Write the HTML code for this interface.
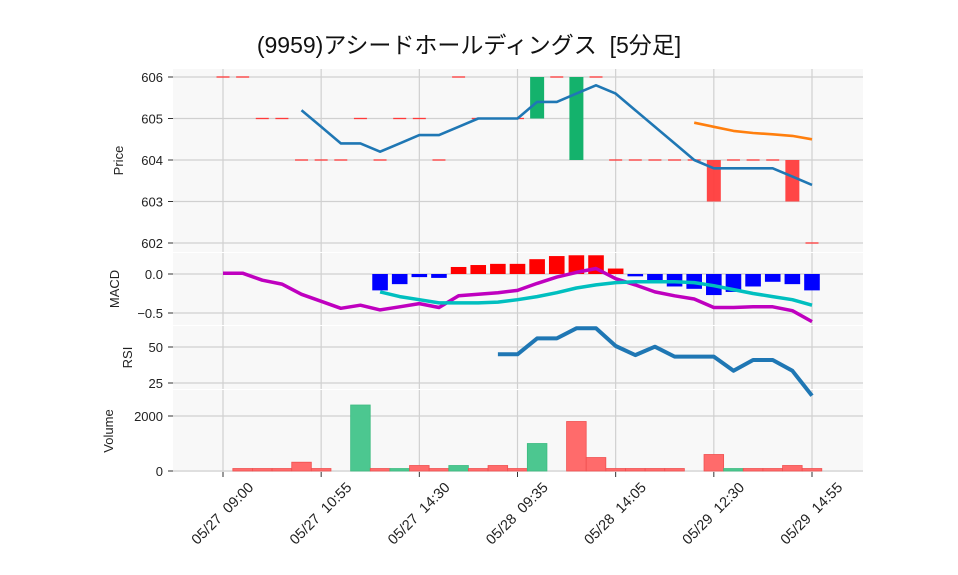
<!DOCTYPE html>
<html><head><meta charset="utf-8"><style>
body{margin:0;background:#fff;}
svg{display:block;font-family:"Liberation Sans","DejaVu Sans",sans-serif;}
text{white-space:pre;}
</style></head><body>
<svg id="c" width="958" height="575" xmlns="http://www.w3.org/2000/svg">
<text x="469" y="53" text-anchor="middle" font-size="23" fill="#111" font-family="'Liberation Sans','Noto Sans CJK JP',sans-serif" style="white-space:pre">(9959)アシードホールディングス  [5分足]</text>
</svg>
<script>
const opens  =[606,606,605,605,604,604,604,605,604,605,605,604,606,605,605,605,605,606,604,606,604,604,604,604,604,604,604,604,604,604,602];
const closes =[606,606,605,605,604,604,604,605,604,605,605,604,606,605,605,605,606,606,606,606,604,604,604,604,604,603,604,604,604,603,602];
const sma5 =[null,null,null,null,605.2,604.8,604.4,604.4,604.2,604.4,604.6,604.6,604.8,605.0,605.0,605.0,605.4,605.4,605.6,605.8,605.6,605.2,604.8,604.4,604.0,603.8,603.8,603.8,603.8,603.6,603.4];
const sma25=[null,null,null,null,null,null,null,null,null,null,null,null,null,null,null,null,null,null,null,null,null,null,null,null,604.9,604.8,604.7,604.65,604.62,604.58,604.5];
const macd =[0.01,0.01,-0.08,-0.13,-0.26,-0.35,-0.44,-0.40,-0.46,-0.42,-0.38,-0.43,-0.28,-0.26,-0.24,-0.21,-0.12,-0.04,0.02,0.07,-0.06,-0.14,-0.23,-0.28,-0.32,-0.43,-0.43,-0.42,-0.42,-0.47,-0.61];
const signal=[null,null,null,null,null,null,null,null,-0.23,-0.29,-0.33,-0.37,-0.37,-0.37,-0.36,-0.33,-0.29,-0.24,-0.18,-0.14,-0.11,-0.10,-0.10,-0.10,-0.11,-0.15,-0.20,-0.25,-0.29,-0.33,-0.40];
const hist =[null,null,null,null,null,null,null,null,-0.21,-0.13,-0.04,-0.05,0.09,0.115,0.13,0.13,0.19,0.23,0.24,0.24,0.07,-0.03,-0.11,-0.16,-0.19,-0.27,-0.23,-0.16,-0.10,-0.13,-0.21];
const rsi  =[null,null,null,null,null,null,null,null,null,null,null,null,null,null,44.9,44.9,56,56,63,63,50.7,44.4,50.2,43.3,43.3,43.3,33.5,41,41,33.5,16.2];
const volume=[0,90,90,90,320,90,0,2400,90,90,200,90,200,90,200,90,1000,0,1800,490,90,90,90,90,0,600,90,90,90,200,90];
const volUp=[0,0,0,0,0,0,0,1,0,1,0,0,1,0,0,0,1,0,0,0,0,0,0,0,0,0,1,0,0,0,0];
const xTickIdx=[0,5,10,15,20,25,30];
const xTickLabels=["05/27  09:00","05/27  10:55","05/27  14:30","05/28  09:35","05/28  14:05","05/29  12:30","05/29  14:55"];
const priceTicks=[602,603,604,605,606];
const macdTicks=[0.0,-0.5];
const rsiTicks=[25,50];
const volTicks=[0,2000];

const svg=document.getElementById('c');
const NS='http://www.w3.org/2000/svg';
function mk(tag,attrs,parent){const e=document.createElementNS(NS,tag);for(const k in attrs)e.setAttribute(k,attrs[k]);(parent||svg).appendChild(e);return e;}
const L=173,R=863;
const X=i=>223+i*19.633;
const panels=[
 {name:'price',top:69,bot:252,y:v=>77+(606-v)*41.5,ticks:priceTicks,fmt:v=>String(v),title:'Price',tx:123},
 {name:'macd',top:253,bot:325,y:v=>274-v*78,ticks:macdTicks,fmt:v=>v===0?'0.0':'\u22120.5',title:'MACD',tx:119},
 {name:'rsi',top:326,bot:389,y:v=>347+(50-v)*1.44,ticks:rsiTicks,fmt:v=>String(v),title:'RSI',tx:132},
 {name:'volume',top:390,bot:472,y:v=>471-v*0.0275,ticks:volTicks,fmt:v=>String(v),title:'Volume',tx:113}
];
panels.forEach(p=>{
 const g=mk('g',{});
 
 
 mk('rect',{x:L,y:p.top,width:R-L,height:p.bot-p.top,fill:'#f8f8f8'},g);
 xTickIdx.forEach(i=>{mk('line',{x1:X(i),x2:X(i),y1:p.top,y2:p.bot,stroke:'#d0d0d0','stroke-width':1.2},g);});
 p.ticks.forEach(v=>{
  const y=p.y(v);
  mk('line',{x1:L,x2:R,y1:y,y2:y,stroke:'#d0d0d0','stroke-width':1.2},g);
  mk('line',{x1:168,x2:173,y1:y,y2:y,stroke:'#333','stroke-width':1},g);
  const t=mk('text',{x:163,y:y+5,'text-anchor':'end','font-size':13,fill:'#222'},g);
  
  
  t.textContent=p.fmt(v);
 });
 const cy=(p.top+p.bot)/2;
 const tt=mk('text',{x:p.tx,y:cy,'text-anchor':'middle','font-size':13,fill:'#222',transform:`rotate(-90 ${p.tx} ${cy})`},g);
 
 
 tt.textContent=p.title;
});
const P=panels[0],M=panels[1],Rs=panels[2],V=panels[3];
opens.forEach((o,i)=>{
 const c=closes[i];const x=X(i);
 if(o===c){
  const e=mk('line',{x1:x-6.5,x2:x+6.5,y1:P.y(o),y2:P.y(o),stroke:'#ff3a3a','stroke-width':1.3});
  
  
 }else{
  const y1=P.y(Math.max(o,c)),y2=P.y(Math.min(o,c));
  const e=mk('rect',{x:x-7,y:y1,width:14,height:y2-y1,fill:c>o?'#14b26c':'#ff3c3c','fill-opacity':c>o?1:0.95});
  
  
 }
});
function line(arr,yf,color,w,name){
 let d='';arr.forEach((v,i)=>{if(v==null)return;d+=(d?'L':'M')+X(i).toFixed(1)+' '+yf(v).toFixed(1);});
 const e=mk('path',{d:d,fill:'none',stroke:color,'stroke-width':w,'stroke-linejoin':'round'});
 
 
}
line(sma5,P.y,'#1f77b4',2.6,'sma-short-line');
line(sma25,P.y,'#ff7f0e',2.6,'sma-long-line');
hist.forEach((h,i)=>{
 if(h==null)return;
 const y0=M.y(0),y1=M.y(h);
 const e=mk('rect',{x:X(i)-7.8,y:Math.min(y0,y1),width:15.6,height:Math.abs(y1-y0),fill:h>=0?'#ff0000':'#0000ff'});
 
 
});
line(macd,M.y,'#bf00bf',3.5,'macd-line');
line(signal,M.y,'#00bfbf',3.5,'signal-line');
line(rsi,Rs.y,'#1f77b4',4,'rsi-line');
volume.forEach((v,i)=>{
 if(!v)return;
 const y=V.y(v);
 const e=mk('rect',{x:X(i)-9.8,y:y,width:19.6,height:471-y,fill:volUp[i]?'#4cc790':'#ff6b6b',stroke:volUp[i]?'#3dbb80':'#f05050','stroke-width':0.8});
 
 
});
xTickIdx.forEach((i,k)=>{
 const x=X(i);
 mk('line',{x1:x,x2:x,y1:472,y2:477,stroke:'#333','stroke-width':1});
 const cy=514;
 const t=mk('text',{x:x,y:cy,'text-anchor':'middle','dominant-baseline':'central','font-size':14.5,fill:'#222',transform:`rotate(-45 ${x} ${cy})`,style:'white-space:pre'});
 
 
 t.textContent=xTickLabels[k];
});
</script>
</body></html>
